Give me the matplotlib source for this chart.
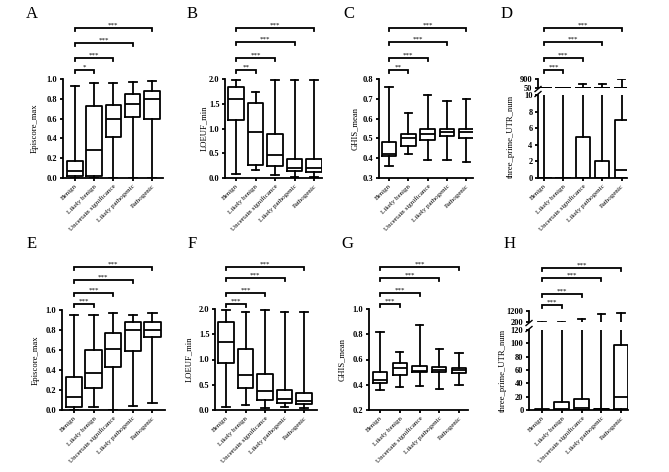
import matplotlib
matplotlib.use("Agg")
import matplotlib.pyplot as plt

plt.rcParams['font.family'] = ['Liberation Serif', 'DejaVu Serif']

W, H = 669, 472
fig = plt.figure(figsize=(6.69, 4.72), dpi=100)

categories = ["Benign", "Likely benign", "Uncertain significance",
              "Likely pathogenic", "Pathogenic"]

# ---- Panel A: Episcore_max
A_lo = [0.0, 0.0, 0.0, 0.0, 0.0]
A_q1 = [0.02, 0.02, 0.41, 0.62, 0.60]
A_med = [0.07, 0.28, 0.60, 0.75, 0.80]
A_q3 = [0.17, 0.73, 0.74, 0.85, 0.88]
A_hi = [0.93, 0.96, 0.96, 0.97, 0.98]
A_sig = ["*", "***", "***", "***"]

# ---- Panel B: LOEUF_min
B_lo = [0.09, 0.17, 0.07, 0.03, 0.03]
B_q1 = [1.18, 0.26, 0.25, 0.15, 0.13]
B_med = [1.59, 0.93, 0.46, 0.21, 0.21]
B_q3 = [1.83, 1.52, 0.88, 0.39, 0.38]
B_hi = [1.98, 1.74, 1.98, 1.98, 1.98]
B_sig = ["**", "***", "***", "***"]

# ---- Panel C: GHIS_mean
C_lo = [0.36, 0.42, 0.39, 0.39, 0.38]
C_q1 = [0.41, 0.46, 0.49, 0.51, 0.50]
C_med = [0.42, 0.50, 0.52, 0.53, 0.53]
C_q3 = [0.48, 0.52, 0.55, 0.55, 0.55]
C_hi = [0.76, 0.63, 0.72, 0.69, 0.70]
C_sig = ["**", "***", "***", "***"]

# ---- Panel D: three_prime_UTR_num
D_lo = [0, 0, 0, 0, 0]
D_q1 = [0, 0, 0, 0, 0]
D_med = [0, 0, 0, 0, 1]
D_q3 = [0, 0, 5, 2, 7]
D_hi = [50, 50, 400, 450, 900]
D_sig = ["***", "***", "***", "***"]

# ---- Panel E: Episcore_max
E_lo = [0.0, 0.03, 0.0, 0.04, 0.07]
E_q1 = [0.03, 0.22, 0.43, 0.59, 0.73]
E_med = [0.13, 0.37, 0.61, 0.80, 0.80]
E_q3 = [0.33, 0.60, 0.77, 0.88, 0.88]
E_hi = [0.95, 0.95, 0.97, 0.95, 0.97]
E_sig = ["***", "***", "***", "***"]

# ---- Panel F: LOEUF_min
F_lo = [0.05, 0.09, 0.04, 0.05, 0.03]
F_q1 = [0.94, 0.44, 0.20, 0.13, 0.12]
F_med = [1.35, 0.69, 0.38, 0.22, 0.18]
F_q3 = [1.74, 1.20, 0.72, 0.40, 0.34]
F_hi = [1.99, 1.94, 1.99, 1.94, 1.94]
F_sig = ["***", "***", "***", "***"]

# ---- Panel G: GHIS_mean
G_lo = [0.36, 0.38, 0.39, 0.37, 0.40]
G_q1 = [0.41, 0.48, 0.50, 0.50, 0.49]
G_med = [0.44, 0.53, 0.51, 0.52, 0.52]
G_q3 = [0.50, 0.57, 0.55, 0.54, 0.53]
G_hi = [0.82, 0.66, 0.87, 0.68, 0.65]
G_sig = ["***", "***", "***", "***"]

# ---- Panel H: three_prime_UTR_num
H_lo = [0, 0, 0, 0, 0]
H_q1 = [0, 0, 0, 0, 1]
H_med = [0, 2, 3, 1, 19]
H_q3 = [1, 12, 16, 2, 98]
H_hi = [200, 150, 500, 900, 1000]
H_sig = ["***", "***", "***", "***"]

LW = 1.3
FS_TICK = 6
FS_X = 5
FS_LAB = 6.2


def px_axes(left, right, top, bottom):
    return fig.add_axes([left / W, 1 - bottom / H, (right - left) / W, (bottom - top) / H])


def boxes(ax, lo, q1, med, q3, hi, width):
    stats = [dict(whislo=a, q1=b, med=c, q3=d, whishi=e, fliers=[])
             for a, b, c, d, e in zip(lo, q1, med, q3, hi)]
    props = dict(color='black', linewidth=LW)
    ax.bxp(stats, positions=list(range(len(stats))), widths=width,
           showfliers=False, manage_ticks=False,
           boxprops=props, whiskerprops=props, capprops=props,
           medianprops=props)


def ytick_style(ax):
    for lab in ax.get_yticklabels():
        lab.set_fontweight('bold')


def style(ax, xticks=True):
    for s in ['top', 'right']:
        ax.spines[s].set_visible(False)
    for s in ['left', 'bottom']:
        ax.spines[s].set_linewidth(LW)
    ax.tick_params(axis='both', width=LW, length=2.5, labelsize=FS_TICK, pad=1.5)
    if xticks:
        ax.set_xticks(range(len(categories)))
        ax.set_xticklabels(categories, rotation=45, ha='right',
                           rotation_mode='anchor', fontsize=FS_X)
        ax.tick_params(axis='x', pad=1.5)


def brackets(ax, bottom_px, height_px, ys_px, sigs):
    tr = ax.get_xaxis_transform()
    d = 3.0 / height_px
    for j, (ypx, s) in enumerate(zip(ys_px, sigs), start=1):
        y = (bottom_px - ypx) / height_px
        ax.plot([0, 0, j, j], [y - d, y, y, y - d], color='black', lw=LW,
                transform=tr, clip_on=False, solid_joinstyle='miter')
        ax.text(j / 2, y + 0.2 / height_px, s, transform=tr, ha='center',
                va='bottom', fontsize=5)


def simple_panel(lay, lo, q1, med, q3, hi, sig, ylim, yticks, ylabel, letter, fmt):
    left, right, top, bottom, c0, sp, width, bys, lx, letpos = lay
    ax = px_axes(left, right, top, bottom)
    boxes(ax, lo, q1, med, q3, hi, width)
    ax.set_xlim((left - c0) / sp, (right - c0) / sp)
    ax.set_ylim(*ylim)
    ax.set_yticks(yticks)
    ax.set_yticklabels([fmt.format(v) for v in yticks])
    style(ax)
    ytick_style(ax)
    ax.set_ylabel(ylabel, fontsize=FS_LAB)
    ax.yaxis.set_label_coords((lx - left) / (right - left), 0.5)
    brackets(ax, bottom, bottom - top, bys, sig)
    fig.text(letpos[0] / W, 1 - letpos[1] / H, letter, fontsize=12,
             ha='center', va='center')
    return ax


def broken_panel(lay, lo, q1, med, q3, hi, sig, low_lim, low_ticks, up_lim,
                 up_ticks, ylabel, letter):
    left, right, top_u, bot_u, top_l, bottom, c0, sp, width, bys, lx, letpos = lay
    xl = ((left - c0) / sp, (right - c0) / sp)
    axl = px_axes(left, right, top_l, bottom)
    boxes(axl, lo, q1, med, q3, hi, width)
    axl.set_xlim(*xl)
    axl.set_ylim(*low_lim)
    axl.set_yticks(low_ticks)
    style(axl)
    ytick_style(axl)
    axl.set_ylabel(ylabel, fontsize=FS_LAB)
    axl.yaxis.set_label_coords((lx - left) / (right - left), 0.5)
    axu = px_axes(left, right, top_u, bot_u)
    boxes(axu, lo, q1, med, q3, hi, width)
    axu.set_xlim(*xl)
    axu.set_ylim(*up_lim)
    axu.set_yticks(up_ticks)
    for s in ['top', 'right', 'bottom']:
        axu.spines[s].set_visible(False)
    axu.spines['left'].set_linewidth(LW)
    axu.tick_params(axis='y', width=LW, length=2.5, labelsize=FS_TICK, pad=1.5)
    ytick_style(axu)
    axu.set_xticks([])
    # break marks
    for ypx in (bot_u + 1.0, top_l - 1.0):
        fig.add_artist(plt.Line2D([(left - 3) / W, (left + 3) / W],
                                  [1 - (ypx + 2.5) / H, 1 - (ypx - 2.5) / H],
                                  color='black', lw=1.0))
    brackets(axl, bottom, bottom - top_l, bys, sig)
    fig.text(letpos[0] / W, 1 - letpos[1] / H, letter, fontsize=12,
             ha='center', va='center')


# layouts (pixel geometry)
lay_A = (63, 163, 79, 178, 75, 19.2, 0.82, [70, 58, 43, 28], 39, (32, 14))
lay_B = (225, 322, 79, 178, 236, 19.5, 0.8, [70, 58, 42, 28], 208, (192, 14))
lay_C = (379, 473, 79, 178, 389, 19.3, 0.76, [70, 58, 42, 28], 359, (349, 14))
lay_D = (538, 627, 79, 88, 95, 178, 544, 19.4, 0.72, [70, 58, 42, 28], 515, (507, 14))
lay_E = (62, 165, 310, 410, 74, 19.6, 0.84, [304, 293, 280, 267], 40, (32, 244))
lay_F = (215, 317, 309, 410, 226, 19.5, 0.82, [304, 293, 278, 267], 193, (192, 244))
lay_G = (369, 468, 309, 410, 380, 19.75, 0.72, [304, 293, 278, 267], 346, (347, 244))
lay_H = (529, 628, 311, 322, 330, 410, 542, 19.75, 0.74, [305, 294, 278, 268], 507, (510, 244))

simple_panel(lay_A, A_lo, A_q1, A_med, A_q3, A_hi, A_sig, (0, 1.0),
             [0, 0.2, 0.4, 0.6, 0.8, 1.0], "Episcore_max", "A", "{:.1f}")
simple_panel(lay_B, B_lo, B_q1, B_med, B_q3, B_hi, B_sig, (0, 2.0),
             [0, 0.5, 1.0, 1.5, 2.0], "LOEUF_min", "B", "{:.1f}")
simple_panel(lay_C, C_lo, C_q1, C_med, C_q3, C_hi, C_sig, (0.3, 0.8),
             [0.3, 0.4, 0.5, 0.6, 0.7, 0.8], "GHIS_mean", "C", "{:.1f}")
broken_panel(lay_D, D_lo, D_q1, D_med, D_q3, D_hi, D_sig, (0, 10),
             [0, 2, 4, 6, 8, 10], (20, 900), [50, 900], "three_prime_UTR_num", "D")
simple_panel(lay_E, E_lo, E_q1, E_med, E_q3, E_hi, E_sig, (0, 1.0),
             [0, 0.2, 0.4, 0.6, 0.8, 1.0], "Episcore_max", "E", "{:.1f}")
simple_panel(lay_F, F_lo, F_q1, F_med, F_q3, F_hi, F_sig, (0, 2.0),
             [0, 0.5, 1.0, 1.5, 2.0], "LOEUF_min", "F", "{:.1f}")
simple_panel(lay_G, G_lo, G_q1, G_med, G_q3, G_hi, G_sig, (0.2, 1.0),
             [0.2, 0.4, 0.6, 0.8, 1.0], "GHIS_mean", "G", "{:.1f}")
broken_panel(lay_H, H_lo, H_q1, H_med, H_q3, H_hi, H_sig, (0, 120),
             [0, 20, 40, 60, 80, 100, 120], (180, 1200), [200, 1200],
             "three_prime_UTR_num", "H")

fig.savefig("out.png", dpi=100)
